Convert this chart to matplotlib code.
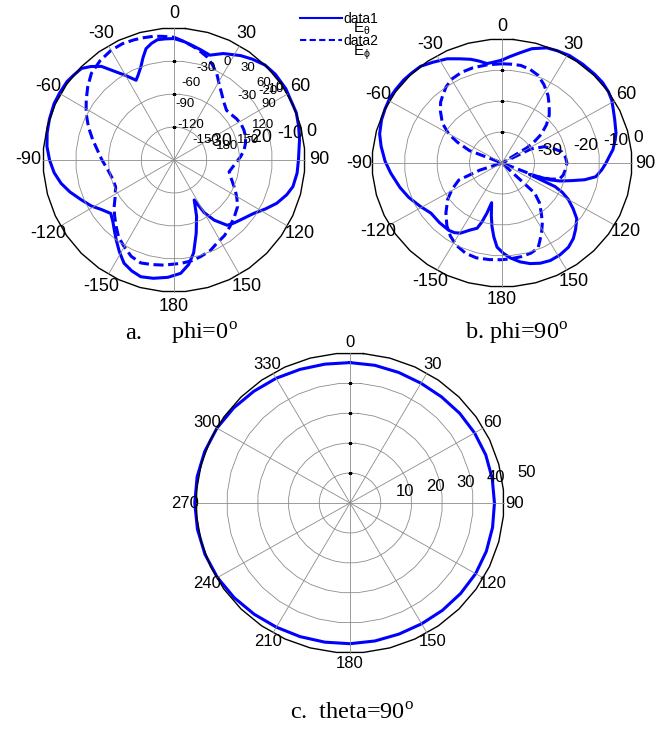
import numpy as np
import matplotlib
matplotlib.use('Agg')
import matplotlib.pyplot as plt
from matplotlib.lines import Line2D

plt.rcParams['font.family'] = 'Liberation Sans'
plt.rcParams['mathtext.fontset'] = 'custom'
plt.rcParams['mathtext.rm'] = 'Liberation Serif'
plt.rcParams['mathtext.it'] = 'Liberation Sans'

# ------------------------------------------------------------
# Pattern data (angle in degrees clockwise from top, gain in dB)
# ------------------------------------------------------------
# a. phi = 0
a_eth_ang = [0, 5, 10, 13.6, 19, 25, 32.7, 38, 44, 50, 57.7, 63, 69, 75, 81, 90, 96, 102.5,
             107, 112.7, 118, 123.7, 130, 136.5, 140.6, 146, 150, 153, 158, 163, 168, 172,
             176.6, 183, 190, 196, 201, 206, 211, 216, 220.6, 225, 230, 236, 241, 247, 253,
             258.4, 264, 270, 276, 282, 288, 295, 300, 306, 310, 314.5, 318.2, 322, 326,
             330, 334.4, 337, 340.3, 343, 345.8, 349, 352.1, 356, 360]
a_eth_db = [-3.2, -4.0, -5.0, -5.6, -6.4, -4.4, -2.4, -1.2, 0.0, 0.4, 0.4, 0.0, 0.0, -0.6,
            -1.2, -2.0, -2.2, -2.8, -4.0, -6.0, -8.4, -10.8, -12.4, -13.6, -14.4, -18.0, -21.6,
            -26.4, -21.6, -16.8, -11.2, -8.0, -5.6, -4.4, -3.6, -3.2, -4.0, -5.2, -7.6, -10.0,
            -12.0, -13.6, -14.8, -13.2, -11.2, -9.2, -6.8, -4.8, -3.2, -2.0, -1.0, -0.4, 0.0,
            0.4, 0.4, 0.4, 0.0, -0.4, -2.0, -4.0, -7.6, -10.4, -13.2, -12.0, -10.0, -7.6, -5.2,
            -4.0, -3.2, -3.2, -3.2]
a_eph_ang = [0, 5, 10, 14, 18, 22, 26.6, 31, 36, 41, 46.8, 51, 56.7, 62, 66.8, 72, 77, 82,
             87, 95, 102, 108, 116, 121, 126, 133, 139.6, 146, 152.5, 158, 164.6, 170, 176,
             181, 185.4, 192, 198, 204, 210, 216, 221.2, 227, 232, 238, 245.4, 253, 261.5,
             270, 277.4, 284, 291, 298, 304.2, 310, 316.1, 323, 330, 336, 341.6, 346, 350.8,
             355, 360]
a_eph_db = [-2.8, -4.0, -5.2, -6.2, -7.2, -8.8, -10.8, -13.2, -15.2, -16.8, -18.0, -17.8,
            -17.2, -16.8, -16.8, -17.0, -17.6, -18.4, -19.6, -21.6, -22.8, -21.6, -19.2, -17.6,
            -16.0, -14.8, -13.6, -12.4, -11.6, -10.4, -9.6, -9.0, -8.6, -8.4, -8.0, -7.6, -7.2,
            -8.0, -9.6, -11.2, -13.2, -15.2, -16.8, -18.8, -20.4, -20.4, -19.6, -18.0, -16.4,
            -14.4, -12.0, -9.6, -7.6, -5.6, -3.6, -2.4, -1.6, -1.4, -1.6, -1.8, -2.0, -2.4, -2.8]

# b. phi = 90
b_eth_ang = [0, 4, 8.9, 14, 20.3, 25, 31, 38, 45, 50, 55, 59, 63, 68, 74.5, 78, 82.8, 86, 90,
             94, 98.7, 102, 105, 108, 110, 113.6, 114.5, 115, 117, 120, 124, 128, 133.5, 138,
             143, 149, 154.7, 160, 165, 170, 175, 179, 183.2, 186, 188.5, 191, 194, 196, 198,
             200, 204, 209.5, 213, 217, 225, 233.5, 241, 249, 256, 264.6, 271, 278.3, 284,
             290.6, 296, 301.5, 306, 311.6, 316, 321.3, 327, 333.4, 339, 344, 348, 351.8, 355,
             360]
b_eth_db = [-6.8, -5.6, -4.0, -2.0, -0.4, 0.0, 0.4, 0.4, 0.4, 0.4, 0.0, -0.6, -1.6, -2.6,
            -3.6, -4.4, -5.6, -6.8, -8.0, -9.2, -10.8, -14.0, -18.0, -21.2, -24.0, -30.8, -26.0,
            -22.0, -19.2, -16.4, -13.6, -10.8, -8.8, -7.2, -6.0, -5.4, -5.2, -5.6, -6.4, -7.6,
            -9.2, -10.8, -12.8, -16.0, -19.2, -22.8, -26.8, -23.2, -20.0, -17.6, -16.4, -14.0,
            -13.2, -12.8, -12.8, -12.8, -11.2, -9.2, -7.6, -5.6, -4.0, -2.4, -1.2, -0.4, 0.0,
            0.4, 0.4, 0.4, 0.2, 0.0, -1.2, -2.4, -4.0, -5.2, -6.4, -7.6, -7.4, -6.8]
b_eph_ang = [0, 5, 10.4, 16, 21.4, 27, 33, 38, 43.3, 48, 52.5, 55, 57.4, 60, 63, 68, 74.4,
             79, 84.4, 90, 96.7, 102, 106.3, 109, 112, 118, 134, 138, 142.9, 147, 151, 155,
             158, 163, 169, 175, 180, 187, 194.4, 201, 208.2, 214, 220, 227, 235, 241, 247.5,
             251.4, 270, 291.8, 296, 299.6, 305, 311.3, 316, 320, 325, 330.6, 337, 343.8, 352,
             360]
b_eph_db = [-8.0, -8.0, -8.0, -8.6, -9.6, -11.6, -14.0, -16.4, -18.8, -21.6, -24.8, -27.6,
            -30.8, -50.0, -30.0, -26.0, -23.2, -21.2, -20.4, -20.0, -20.4, -20.8, -21.6, -24.0,
            -28.0, -50.0, -26.0, -22.8, -20.0, -17.2, -14.8, -12.4, -10.4, -9.6, -9.2, -9.0,
            -8.8, -8.6, -8.4, -8.8, -10.0, -11.6, -13.6, -16.4, -19.6, -22.4, -25.6, -32.8,
            -50.0, -29.2, -24.8, -21.2, -17.6, -14.8, -12.8, -11.6, -10.0, -8.8, -8.2, -8.0,
            -8.0, -8.0]

# c. theta = 90
c_ang = [0, 10, 20, 30, 40, 50, 60, 70, 80, 90, 100, 110, 120, 130, 140, 150, 160, 170, 180,
         190, 200, 210, 220, 230, 240, 250, 260, 270, 280, 290, 300, 310, 320, 330, 340, 350,
         360]
c_gain = [46.8, 46.6, 46.3, 46.1, 46.2, 46.5, 46.7, 46.9, 46.9, 46.9, 47.0, 47.1, 47.1, 46.9,
          46.7, 46.5, 46.5, 46.7, 46.9, 47.1, 47.4, 47.8, 48.4, 49.1, 49.7, 50.1, 50.3, 50.4,
          50.4, 50.2, 49.9, 49.3, 48.6, 48.0, 47.4, 47.0, 46.8]

pm_labels = ['0', '30', '60', '90', '120', '150', '180', '-150', '-120', '-90', '-60', '-30']
deg_labels = [str(a) for a in range(0, 360, 30)]
db_floor = -40
db_rings = [10, 20, 30]
c_rings = [10, 20, 30, 40]

W, H = 669, 729
fig = plt.figure(figsize=(W / 100, H / 100), dpi=100)


def fpos(x, y):
    return x / W, 1 - y / H


def polar_axes(cx, cy, rx, ry):
    ax = fig.add_axes([(cx - rx) / W, 1 - (cy + ry) / H, 2 * rx / W, 2 * ry / H],
                      projection='polar')
    ax.set_aspect('auto')
    return ax


def frame(ax, rmax, rings, labels, lab_scale, fs):
    ax.set_theta_zero_location('N')
    ax.set_theta_direction(-1)
    ax.axis('off')
    th = np.deg2rad(np.arange(5, 370, 10))
    for rv in rings:
        ax.plot(th, np.full(th.size, rv), color='0.55', lw=0.6, clip_on=False)
    ax.plot(th, np.full(th.size, rmax), color='k', lw=1.0, clip_on=False)
    for a in range(0, 180, 30):
        ax.plot(np.deg2rad([a, a + 180]), [rmax, rmax], color='0.55', lw=0.6, clip_on=False)
    ax.plot(np.zeros(len(rings)), rings, ls='none', marker='_', ms=3, mew=0.8, color='k')
    for a, lab in zip(range(0, 360, 30), labels):
        ax.text(np.deg2rad(a), lab_scale * rmax, lab, ha='center', va='center', fontsize=fs)
    ax.set_ylim(0, rmax)


def db_plot(ax, ang, db, ls):
    r = np.clip(np.array(db) - db_floor, 0, None)
    ax.plot(np.deg2rad(ang), r, color='#0000ff', lw=2.2, ls=ls, clip_on=False)


dash = (0, (3.3, 1.5))

# a. phi=0
ax_a = polar_axes(174, 160, 131, 132)
db_plot(ax_a, a_eth_ang, a_eth_db, '-')
db_plot(ax_a, a_eph_ang, a_eph_db, dash)
frame(ax_a, -db_floor, db_rings, pm_labels, 1.11, 13)

# b. phi=90
ax_b = polar_axes(502, 163, 130, 124)
db_plot(ax_b, b_eth_ang, b_eth_db, '-')
db_plot(ax_b, b_eph_ang, b_eph_db, dash)
frame(ax_b, -db_floor, db_rings, pm_labels, 1.1, 13)

# c. theta=90
ax_c = polar_axes(350, 503, 154, 150)
ax_c.plot(np.deg2rad(c_ang), c_gain, color='#0000ff', lw=2.2, clip_on=False)
frame(ax_c, 50, c_rings, deg_labels, 1.07, 12)
for v in c_rings + [50]:
    ax_c.text(np.deg2rad(81), v + 5, str(v), ha='left', va='baseline', fontsize=12)

# radial dB labels of b
for lab, x, y in [('-30', 537, 155), ('-20', 573, 150), ('-10', 603, 145), ('0', 633, 142)]:
    fig.text(*fpos(x, y), lab, ha='left', va='baseline', fontsize=12.5)

# radial dB labels of a (overlapping label sets)
for lab, x, y in [('-30', 219, 141), ('-20', 259, 137), ('-10', 290, 133), ('0', 311, 131)]:
    fig.text(*fpos(x, y), lab, ha='center', va='center', fontsize=13)
for k, lab in enumerate(pm_labels):
    t = np.deg2rad(30 * k)
    fig.text(*fpos(227 + 42 * np.sin(t), 104 - 42 * np.cos(t)), lab,
             ha='center', va='center', fontsize=9.5)
for lab, x, y in [('-30', 247, 96), ('-20', 268, 91), ('-10', 274, 89), ('0', 279, 87)]:
    fig.text(*fpos(x, y), lab, ha='center', va='center', fontsize=9.5)

# legend
handles = [Line2D([], [], color='#0000ff', lw=1.5),
           Line2D([], [], color='#0000ff', lw=1.5, ls=(0, (3, 1.6)))]
fig.legend(handles, ['data1', 'data2'], loc='upper left', bbox_to_anchor=fpos(300, 12),
           frameon=False, fontsize=10, handlelength=3.0, handletextpad=0.15,
           labelspacing=0.55, borderpad=0, borderaxespad=0)
fig.text(*fpos(353, 33), r'E$_\theta$', ha='left', va='baseline', fontsize=11)
fig.text(*fpos(353, 56), r'E$_\phi$', ha='left', va='baseline', fontsize=11)

# captions
cap = dict(family='Liberation Serif', fontsize=17.5, va='baseline', ha='left')
fig.text(*fpos(125, 339), 'a.', **cap)
fig.text(*fpos(171, 339), r'phi=0$^{\mathrm{o}}$', **cap)
fig.text(*fpos(465, 339), r'b. phi=90$^{\mathrm{o}}$', **cap)
fig.text(*fpos(290, 719), r'c.  theta=90$^{\mathrm{o}}$', **cap)

fig.savefig('out.png', dpi=100)
